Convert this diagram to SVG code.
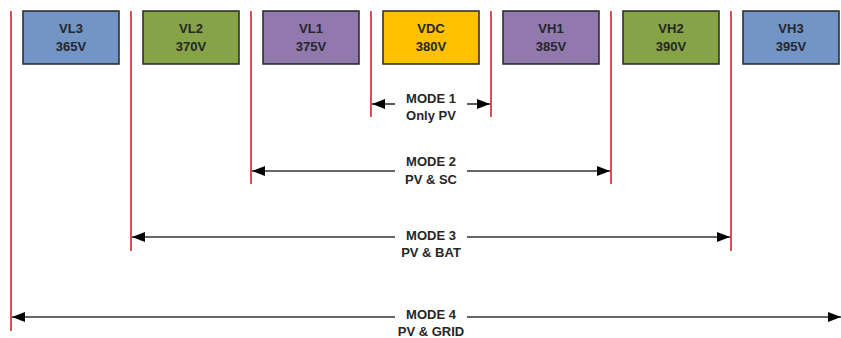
<svg xmlns="http://www.w3.org/2000/svg" width="841" height="338" viewBox="0 0 841 338">
<defs>
<style>
.box{stroke:#262626;stroke-width:1.5}
.blue{fill:#7295C6}
.green{fill:#86A447}
.purple{fill:#9179AE}
.yellow{fill:#FFC000}
.t{font-family:"Liberation Sans",Arial,sans-serif;font-weight:bold;font-size:13px;fill:#262626;text-anchor:middle}
.red{stroke:#D0121E;stroke-width:1.5;fill:none}
.arr{stroke:#333;stroke-width:1.6;fill:none}
</style>
<marker id="ah" viewBox="0 0 13 10" refX="13" refY="5" markerWidth="13" markerHeight="10" markerUnits="userSpaceOnUse" orient="auto-start-reverse">
<path d="M0,0 L13,5 L0,10 Z" fill="#000"/>
</marker>
</defs>
<rect width="841" height="338" fill="#fff"/>
<g id="VL3"><rect class="box blue" x="23" y="11" width="96" height="53"/><text class="t" x="71" y="33">VL3</text><text class="t" x="71" y="51">365V</text></g>
<g id="VL2"><rect class="box green" x="143" y="11" width="96" height="53"/><text class="t" x="191" y="33">VL2</text><text class="t" x="191" y="51">370V</text></g>
<g id="VL1"><rect class="box purple" x="263" y="11" width="96" height="53"/><text class="t" x="311" y="33">VL1</text><text class="t" x="311" y="51">375V</text></g>
<g id="VDC"><rect class="box yellow" x="383" y="11" width="96" height="53"/><text class="t" x="431" y="33">VDC</text><text class="t" x="431" y="51">380V</text></g>
<g id="VH1"><rect class="box purple" x="503" y="11" width="96" height="53"/><text class="t" x="551" y="33">VH1</text><text class="t" x="551" y="51">385V</text></g>
<g id="VH2"><rect class="box green" x="623" y="11" width="96" height="53"/><text class="t" x="671" y="33">VH2</text><text class="t" x="671" y="51">390V</text></g>
<g id="VH3"><rect class="box blue" x="743" y="11" width="96" height="53"/><text class="t" x="791" y="33">VH3</text><text class="t" x="791" y="51">395V</text></g>
<g id="boundaries">
<line class="red" x1="11" y1="11" x2="11" y2="331"/>
<line class="red" x1="131" y1="11" x2="131" y2="251"/>
<line class="red" x1="251" y1="11" x2="251" y2="184"/>
<line class="red" x1="371" y1="11" x2="371" y2="117"/>
<line class="red" x1="491" y1="11" x2="491" y2="117"/>
<line class="red" x1="611" y1="11" x2="611" y2="184"/>
<line class="red" x1="731" y1="11" x2="731" y2="251"/>
</g>
<g id="connectors">
<line class="arr" x1="395" y1="104" x2="372" y2="104" marker-end="url(#ah)"/>
<line class="arr" x1="467" y1="104" x2="490" y2="104" marker-end="url(#ah)"/>
<line class="arr" x1="395" y1="171" x2="252" y2="171" marker-end="url(#ah)"/>
<line class="arr" x1="467" y1="171" x2="610" y2="171" marker-end="url(#ah)"/>
<line class="arr" x1="395" y1="237" x2="132" y2="237" marker-end="url(#ah)"/>
<line class="arr" x1="467" y1="237" x2="730" y2="237" marker-end="url(#ah)"/>
<line class="arr" x1="395" y1="317" x2="12" y2="317" marker-end="url(#ah)"/>
<line class="arr" x1="467" y1="317" x2="841" y2="317" marker-end="url(#ah)"/>
</g>
<g id="labels">
<text class="t" x="431" y="103">MODE 1</text><text class="t" x="431" y="120">Only PV</text>
<text class="t" x="431" y="166">MODE 2</text><text class="t" x="431" y="184">PV &amp; SC</text>
<text class="t" x="431" y="240">MODE 3</text><text class="t" x="431" y="257">PV &amp; BAT</text>
<text class="t" x="431" y="319">MODE 4</text><text class="t" x="431" y="336">PV &amp; GRID</text>
</g>
</svg>
